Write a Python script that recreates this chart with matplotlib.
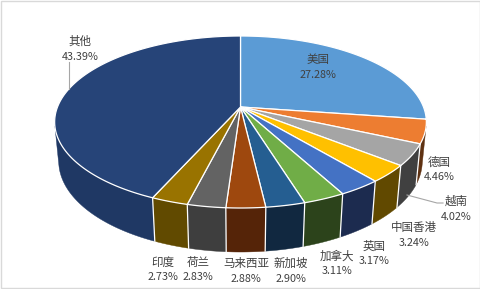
import numpy as np
import matplotlib
matplotlib.use('Agg')
import matplotlib.pyplot as plt
from matplotlib.patches import Polygon, Rectangle

plt.rcParams['font.family'] = ['Noto Sans CJK SC', 'DejaVu Sans']

# ---- data ----
categories = ['美国', '德国', '越南', '中国香港', '英国', '加拿大',
              '新加坡', '马来西亚', '荷兰', '印度', '其他']
shares = [27.28, 4.46, 4.02, 3.24, 3.17, 3.11, 2.90, 2.88, 2.83, 2.73, 43.39]

# ---- styles ----
top_colors = ['#5B9BD5', '#ED7D31', '#A5A5A5', '#FFC000', '#4472C4', '#70AD47',
              '#255E91', '#9E480E', '#636363', '#997300', '#264478']
side_colors = ['#2E4F6E', '#5F3212', '#404040', '#614900', '#1C2B4F', '#2C431B',
               '#112840', '#552408', '#3E3E3E', '#614A00', '#1F3864']
# label anchor positions (pixel coords: name centre x, name centre y)
label_pos = [(318, 60), (439, 162), (456, 201), (414, 227), (374, 246), (337, 256),
             (291, 263), (246, 263), (198, 262), (163, 262), (80, 41)]

W, H = 481, 289
fig = plt.figure(figsize=(W / 100, H / 100), dpi=100)
ax = fig.add_axes([0, 0, 1, 1])
ax.set_xlim(0, W)
ax.set_ylim(H, 0)
ax.axis('off')

# ---- perspective projection of a unit-radius cylinder ----
s_a = 0.4557
c_a = np.sqrt(1 - s_a ** 2)
D = 5.104
F = 934.0
CX, CY = 240.5, 107.0
THK = 0.2423


def proj(u, v, h):
    depth = D - (v * c_a + h * s_a)
    yv = -v * s_a + h * c_a
    return CX + F * u / depth, CY - F * yv / depth


def arc(a1, a2, h, n=None):
    if n is None:
        n = max(4, int(abs(a2 - a1) / 0.5))
    t = np.radians(np.linspace(a1, a2, n))
    u, v = np.sin(t), -np.cos(t)
    x, y = proj(u, v, h)
    return np.column_stack([x, y])


total = sum(shares)
bounds = np.concatenate([[0], np.cumsum(shares) / total * 360.0])

vmin = 1.0 / (D * c_a)
vis_lo = np.degrees(np.arccos(-vmin))
vis_hi = 360.0 - vis_lo

# side walls
for i in range(len(shares)):
    a1, a2 = bounds[i], bounds[i + 1]
    lo, hi = max(a1, vis_lo), min(a2, vis_hi)
    if hi <= lo:
        continue
    topa = arc(lo, hi, 0.0)
    bota = arc(lo, hi, -THK)[::-1]
    poly = np.vstack([topa, bota])
    ax.add_patch(Polygon(poly, closed=True, facecolor=side_colors[i],
                         edgecolor=side_colors[i], linewidth=0.3, zorder=2))

# white vertical seams between walls
for b in bounds[1:-1]:
    if vis_lo < b < vis_hi:
        t = np.radians(b)
        x0, y0 = proj(np.sin(t), -np.cos(t), 0.0)
        x1, y1 = proj(np.sin(t), -np.cos(t), -THK)
        ax.plot([x0, x1], [y0, y1], color='white', lw=0.9, zorder=3)

# top faces
ax0, ay0 = proj(0, 0, 0)
for i in range(len(shares)):
    a1, a2 = bounds[i], bounds[i + 1]
    pts = np.vstack([[ax0, ay0], arc(a1, a2, 0.0)])
    ax.add_patch(Polygon(pts, closed=True, facecolor=top_colors[i],
                         edgecolor='white', linewidth=0.9, joinstyle='round',
                         zorder=4))

# ---- labels ----
tcol = '#404040'
for i, cat in enumerate(categories):
    x, y = label_pos[i]
    ax.text(x, y, cat, ha='center', va='center', fontsize=8.3, color=tcol, zorder=6)
    ax.text(x, y + 15.5, f'{shares[i]:.2f}%', ha='center', va='center',
            fontsize=7.8, color=tcol, zorder=6)

# leader lines
lcol = '#A6A6A6'
ax.plot([69, 69], [62, 89], color=lcol, lw=0.8, zorder=5)
ax.plot([407, 437, 443], [195, 203, 203], color=lcol, lw=0.8, zorder=5)

# chart border
ax.add_patch(Rectangle((0.5, 0.5), W - 1.5, H - 1.5, fill=False,
                       edgecolor='#D9D9D9', linewidth=1.0, zorder=7))

fig.savefig('out.png', dpi=100)
